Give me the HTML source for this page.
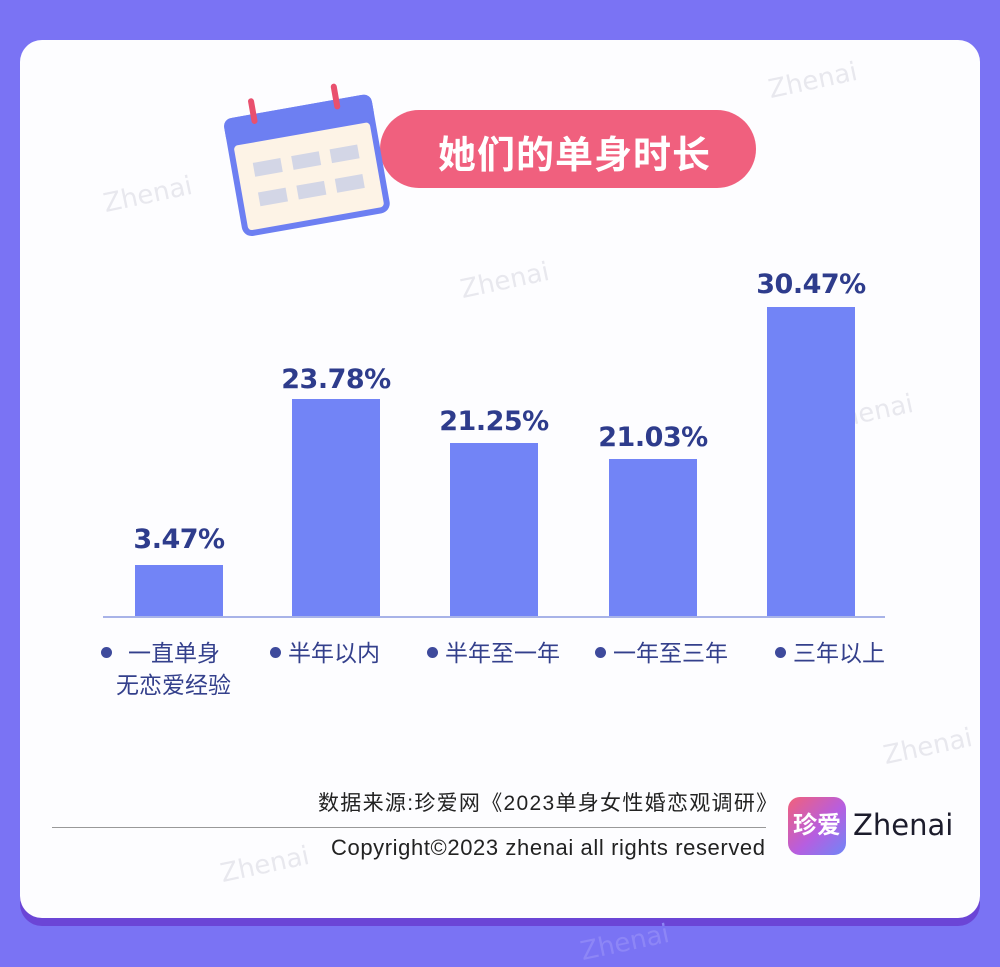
<!DOCTYPE html>
<html><head><meta charset="utf-8"><style>
body{margin:0;width:1000px;height:960px;background:#7a73f4;position:relative;overflow:hidden;font-family:"Liberation Sans","Noto Sans CJK SC",sans-serif}
.shadow{position:absolute;left:20px;top:48px;width:960px;height:878px;border-radius:22px;background:#6b45d6}
.card{position:absolute;left:20px;top:40px;width:960px;height:878px;border-radius:22px;background:#fdfdff}
.a{position:absolute}
.bar{position:absolute;background:#7284f6;width:88px}
.v{position:absolute;width:160px;text-align:center;font-size:27px;font-weight:bold;color:#2e3c8c;font-family:"DejaVu Sans","Noto Sans CJK SC",sans-serif;letter-spacing:-0.5px}
.c{position:absolute;font-size:23px;color:#34408c;top:638px;line-height:30px}
.dot{position:absolute;width:11px;height:11px;border-radius:50%;background:#3e4a9c;top:647px}
.wm{position:absolute;color:#e8e8ee;font-size:26px;transform:rotate(-12deg);font-family:"DejaVu Sans",sans-serif}
</style></head><body>
<div class="shadow"></div><div class="card"></div>
<div class="wm" style="left:768px;top:66px">Zhenai</div>
<div class="wm" style="left:103px;top:180px">Zhenai</div>
<div class="wm" style="left:460px;top:266px">Zhenai</div>
<div class="wm" style="left:824px;top:398px">Zhenai</div>
<div class="wm" style="left:883px;top:732px">Zhenai</div>
<div class="wm" style="left:220px;top:850px">Zhenai</div>
<div class="wm" style="left:580px;top:928px;color:#8d86f6">Zhenai</div>
<!-- title -->
<div class="a" style="left:380px;top:110px;width:376px;height:78px;border-radius:39px;background:#f0607e"></div>
<div class="a" style="left:438px;top:124px;font-size:38px;font-weight:bold;color:#fff;letter-spacing:1px">她们的单身时长</div>
<svg class="a" style="left:220px;top:75px" width="190" height="165" viewBox="0 0 190 165">
<g transform="rotate(-10 90 90)">
<rect x="12" y="30" width="150" height="120" rx="10" fill="#6d7ff2"/>
<rect x="18" y="58" width="138" height="86" rx="4" fill="#fdf3e6"/>
<rect x="12" y="30" width="150" height="26" rx="8" fill="#6d7ff2"/>
<rect x="40" y="14" width="6" height="26" rx="3" fill="#e9506e"/>
<rect x="124" y="14" width="6" height="26" rx="3" fill="#e9506e"/>
<g fill="#d3d6e6"><rect x="34" y="78" width="28" height="14"/><rect x="73" y="78" width="28" height="14"/><rect x="112" y="78" width="28" height="14"/><rect x="34" y="108" width="28" height="14"/><rect x="73" y="108" width="28" height="14"/><rect x="112" y="108" width="28" height="14"/></g>
</g></svg>
<!-- bars -->
<div class="bar" style="left:135px;top:565px;height:52px"></div>
<div class="bar" style="left:292px;top:399px;height:218px"></div>
<div class="bar" style="left:450px;top:443px;height:174px"></div>
<div class="bar" style="left:609px;top:459px;height:158px"></div>
<div class="bar" style="left:767px;top:307px;height:310px"></div>
<div class="a" style="left:103px;top:616px;width:782px;height:2px;background:#a8b3e8"></div>
<div class="v" style="left:99px;top:524px">3.47%</div>
<div class="v" style="left:256px;top:364px">23.78%</div>
<div class="v" style="left:414px;top:406px">21.25%</div>
<div class="v" style="left:573px;top:422px">21.03%</div>
<div class="v" style="left:731px;top:269px">30.47%</div>
<div class="dot" style="left:101px"></div><div class="c" style="left:128px">一直单身</div>
<div class="c" style="left:116px;top:670px">无恋爱经验</div>
<div class="dot" style="left:270px"></div><div class="c" style="left:288px">半年以内</div>
<div class="dot" style="left:427px"></div><div class="c" style="left:445px">半年至一年</div>
<div class="dot" style="left:595px"></div><div class="c" style="left:613px">一年至三年</div>
<div class="dot" style="left:775px"></div><div class="c" style="left:793px">三年以上</div>
<!-- footer -->
<div class="a" style="left:318px;top:787px;font-size:21px;letter-spacing:1.3px;color:#222;white-space:nowrap">数据来源:珍爱网《2023单身女性婚恋观调研》</div>
<div class="a" style="left:52px;top:827px;width:714px;height:1px;background:#999"></div>
<div class="a" style="left:331px;top:835px;font-size:22px;letter-spacing:0.6px;color:#222;white-space:nowrap">Copyright©2023 zhenai all rights reserved</div>
<div class="a" style="left:788px;top:797px;width:58px;height:58px;border-radius:12px;background:linear-gradient(135deg,#f2607a,#b65ee0 55%,#6f86f7);color:#fff;font-size:24px;line-height:58px;text-align:center;font-weight:bold">珍爱</div>
<div class="a" style="left:853px;top:808px;font-size:29px;color:#1c1c2c;font-family:'DejaVu Sans',sans-serif">Zhenai</div>
</body></html>
